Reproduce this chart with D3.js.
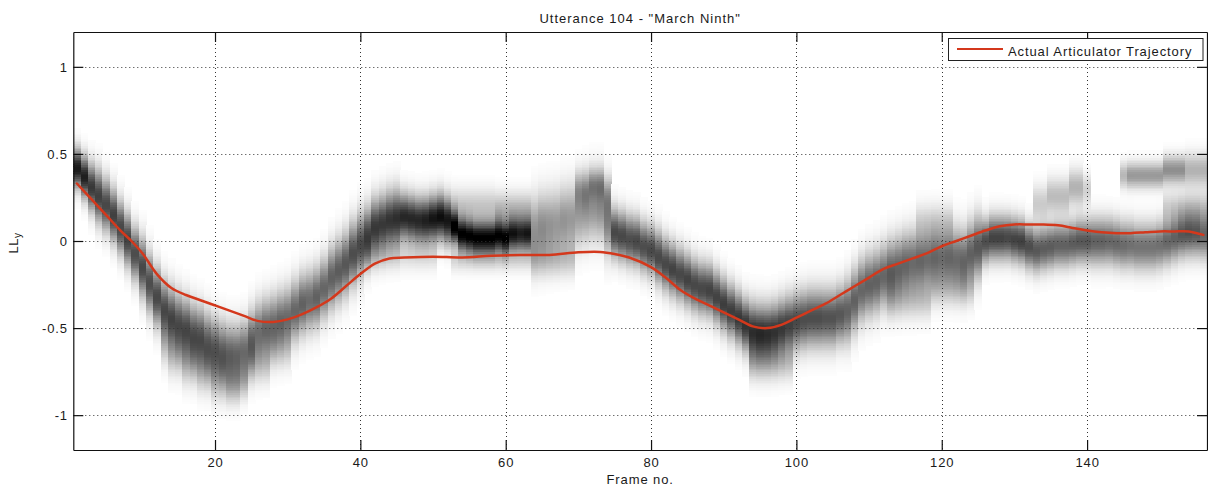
<!DOCTYPE html>
<html>
<head>
<meta charset="utf-8">
<script src="https://cdn.jsdelivr.net/npm/d3@7"></script>
<style>
  html, body { margin: 0; padding: 0; background: #fff; }
  svg { display: block; }
  text { font-family: "Liberation Sans", Arial, sans-serif; fill: #1a1a1a; }
</style>
</head>
<body>
<svg id="chart" width="1208" height="486"></svg>
<script>
// ---------------- data ----------------
const titleText = 'Utterance 104 - "March Ninth"';
const xLabel = "Frame no.";
const legendLabel = "Actual Articulator Trajectory";
const xTicks = [20, 40, 60, 80, 100, 120, 140];
const yTicks = [-1, -0.5, 0, 0.5, 1];
const xDomain = [0.5, 156.5];
const yDomain = [-1.2, 1.2];

// per-frame main posterior band: centre, spread, darkness (frames 1..156)
const bandCentre = [
  0.42,0.37,0.31,0.26,0.21,0.15,0.08,0.01,-0.07,-0.15,
  -0.24,-0.32,-0.39,-0.44,-0.47,-0.50,-0.53,-0.55,-0.58,-0.61,
  -0.63,-0.65,-0.65,-0.63,-0.57,-0.52,-0.50,-0.48,-0.46,-0.44,
  -0.40,-0.36,-0.34,-0.32,-0.27,-0.21,-0.17,-0.13,-0.07,-0.02,
  0.03,0.08,0.10,0.12,0.13,0.14,0.13,0.12,0.12,0.13,
  0.14,0.12,0.08,0.04,0.03,0.02,0.02,0.02,0.03,0.02,
  0.04,0.04,0.04,0.06,0.08,0.09,0.10,0.12,0.13,0.16,
  0.18,0.20,0.20,0.12,0.05,0.03,0.01,0.00,-0.03,-0.05,
  -0.09,-0.13,-0.16,-0.19,-0.22,-0.25,-0.27,-0.28,-0.32,-0.36,
  -0.40,-0.44,-0.48,-0.52,-0.53,-0.53,-0.52,-0.50,-0.48,-0.46,
  -0.45,-0.44,-0.44,-0.44,-0.44,-0.42,-0.40,-0.34,-0.28,-0.25,
  -0.23,-0.20,-0.17,-0.15,-0.13,-0.12,-0.11,-0.10,-0.09,-0.09,
  -0.09,-0.10,-0.11,-0.07,-0.035,0.00,0.02,0.02,0.02,0.01,
  0.00,-0.03,-0.05,-0.04,-0.03,-0.02,-0.02,-0.01,0.00,0.00,
  0.00,0.00,0.00,-0.01,-0.02,-0.02,-0.03,-0.03,-0.03,-0.02,
  0.00,0.02,0.04,0.05,0.05,0.04
];
const bandSpread = [
  0.075,0.08,0.09,0.10,0.10,0.10,0.10,0.10,0.10,0.11,
  0.11,0.11,0.11,0.115,0.115,0.115,0.115,0.115,0.115,0.115,
  0.115,0.115,0.115,0.115,0.115,0.115,0.115,0.115,0.115,0.115,
  0.115,0.115,0.115,0.115,0.115,0.12,0.12,0.12,0.12,0.12,
  0.11,0.11,0.11,0.11,0.11,0.09,0.09,0.09,0.09,0.09,
  0.09,0.09,0.065,0.065,0.065,0.065,0.065,0.065,0.065,0.065,
  0.065,0.065,0.065,0.13,0.13,0.13,0.13,0.13,0.13,0.13,
  0.13,0.13,0.13,0.13,0.095,0.095,0.095,0.095,0.095,0.095,
  0.10,0.10,0.10,0.10,0.10,0.10,0.10,0.10,0.10,0.10,
  0.10,0.10,0.10,0.11,0.11,0.11,0.11,0.11,0.11,0.11,
  0.11,0.11,0.11,0.11,0.11,0.11,0.12,0.12,0.12,0.12,
  0.12,0.12,0.12,0.12,0.12,0.12,0.12,0.12,0.12,0.12,
  0.12,0.12,0.12,0.12,0.12,0.085,0.085,0.085,0.085,0.085,
  0.085,0.085,0.085,0.085,0.085,0.085,0.085,0.085,0.085,0.085,
  0.09,0.09,0.09,0.09,0.09,0.09,0.09,0.09,0.09,0.09,
  0.09,0.09,0.09,0.09,0.09,0.09
];
const bandDarkness = [
  0.9,0.88,0.78,0.75,0.72,0.75,0.72,0.74,0.7,0.72,
  0.7,0.72,0.7,0.72,0.68,0.7,0.66,0.68,0.62,0.64,
  0.6,0.62,0.6,0.58,0.6,0.56,0.6,0.58,0.6,0.58,
  0.6,0.62,0.58,0.62,0.6,0.62,0.64,0.66,0.7,0.72,
  0.75,0.78,0.78,0.8,0.82,0.85,0.85,0.85,0.88,0.92,
  0.95,0.92,1.0,1.0,1.0,1.0,1.0,1.0,0.98,1.0,
  0.9,0.85,0.88,0.42,0.45,0.42,0.4,0.42,0.4,0.38,
  0.4,0.42,0.45,0.5,0.72,0.72,0.7,0.72,0.7,0.72,
  0.72,0.72,0.74,0.72,0.74,0.72,0.72,0.74,0.74,0.76,
  0.76,0.78,0.8,0.82,0.84,0.82,0.8,0.78,0.75,0.72,
  0.7,0.7,0.7,0.68,0.68,0.66,0.62,0.62,0.6,0.62,
  0.62,0.6,0.62,0.6,0.6,0.58,0.6,0.58,0.6,0.58,
  0.6,0.58,0.6,0.62,0.66,0.7,0.74,0.74,0.72,0.74,
  0.75,0.7,0.66,0.64,0.64,0.62,0.62,0.64,0.66,0.66,
  0.62,0.62,0.6,0.6,0.58,0.56,0.55,0.55,0.55,0.56,
  0.6,0.62,0.66,0.68,0.66,0.6
];
// secondary faint blobs: [firstFrame, lastFrame, centre, spread, darkness]
const extraBlobs = [
  [13,13,-0.58,0.09,0.2],[14,15,-0.64,0.09,0.22],[16,17,-0.69,0.09,0.25],
  [18,19,-0.73,0.09,0.25],[20,21,-0.78,0.09,0.25],[22,23,-0.82,0.075,0.25],
  [24,24,-0.80,0.07,0.2],[25,27,-0.70,0.08,0.18],[28,30,-0.62,0.08,0.12],
  [41,50,-0.08,0.06,0.12],[53,58,0.20,0.07,0.22],[59,63,0.18,0.07,0.28],
  [53,63,-0.10,0.05,0.15],[64,69,-0.10,0.07,0.18],[70,71,0.30,0.07,0.25],
  [72,73,0.33,0.06,0.28],[74,74,0.27,0.07,0.22],[94,99,-0.70,0.07,0.18],
  [113,118,-0.33,0.08,0.18],[119,124,-0.27,0.07,0.14],[117,121,0.12,0.07,0.12],
  [133,134,0.22,0.07,0.2],[135,137,0.26,0.07,0.26],[138,139,0.31,0.07,0.3],
  [140,140,0.30,0.06,0.18],[145,145,0.38,0.05,0.28],[146,150,0.38,0.05,0.4],
  [151,153,0.41,0.055,0.44],[154,156,0.41,0.065,0.3],[151,156,0.20,0.06,0.16]
];
// actual articulator trajectory
const trajFrames = [1,3,5,7,8.5,10,12,14,16,18,20,22,24,26,28,30,32,34,36,38,40,42,44,46,50,54,58,62,66,70,73,75,77,80,82,84,86,88,90,92,94,96,98,100,102,104,106,108,110,112,114,116,118,120,122,124,126,128,130,132,134,136,138,140,142,144,146,148,150,152,154,156];
const trajValues = [0.33,0.24,0.15,0.06,0.0,-0.07,-0.19,-0.27,-0.31,-0.34,-0.37,-0.40,-0.43,-0.46,-0.465,-0.45,-0.42,-0.38,-0.33,-0.26,-0.19,-0.13,-0.10,-0.095,-0.09,-0.095,-0.085,-0.08,-0.08,-0.065,-0.063,-0.075,-0.095,-0.15,-0.21,-0.28,-0.33,-0.37,-0.41,-0.45,-0.49,-0.50,-0.48,-0.44,-0.40,-0.36,-0.31,-0.26,-0.21,-0.16,-0.13,-0.10,-0.07,-0.03,0.0,0.03,0.06,0.085,0.095,0.095,0.095,0.09,0.075,0.06,0.05,0.045,0.045,0.05,0.055,0.055,0.055,0.035];

// ---------------- layout ----------------
const L = 73.3, R = 1207, T = 32, B = 450;
const red = "#d4381c";
const svg = d3.select("#chart");

const x = d3.scaleLinear().domain(xDomain).range([L, R]);
const y = d3.scaleLinear().domain(yDomain).range([B, T]);
const grey = d3.scaleLinear().domain([0, 1]).range(["#ffffff", "#000000"]).clamp(true);

// ---------------- heat map ----------------
const cells = [];
const step = 0.01;
const rows = d3.range(yDomain[0] + step / 2, yDomain[1], step);
bandCentre.forEach((mu, i) => {
  const f = i + 1;
  const s = bandSpread[i], a = bandDarkness[i];
  const extras = extraBlobs.filter(b => f >= b[0] && f <= b[1]);
  rows.forEach(v => {
    let d = a * Math.exp(-0.5 * ((v - mu) / s) ** 2);
    extras.forEach(b => { d += b[4] * Math.exp(-0.5 * ((v - b[2]) / b[3]) ** 2); });
    if (d > 0.008) cells.push({ f, v, d: Math.min(1, d) });
  });
});

svg.append("defs").append("clipPath").attr("id", "plotclip")
  .append("rect").attr("x", L).attr("y", T).attr("width", R - L).attr("height", B - T);

const heat = svg.append("g").attr("clip-path", "url(#plotclip)").attr("shape-rendering", "crispEdges");
heat.selectAll("rect").data(cells).join("rect")
  .attr("x", d => x(d.f - 0.5))
  .attr("width", d => x(d.f + 0.5) - x(d.f - 0.5) + 0.6)
  .attr("y", d => y(d.v + step / 2))
  .attr("height", d => y(d.v - step / 2) - y(d.v + step / 2) + 0.6)
  .attr("fill", d => grey(d.d));

// ---------------- grid ----------------
const grid = svg.append("g").attr("stroke", "#333").attr("stroke-width", 1).attr("stroke-dasharray", "1,3");
grid.selectAll(".gx").data(xTicks).join("line")
  .attr("x1", d => Math.round(x(d)) + 0.5).attr("x2", d => Math.round(x(d)) + 0.5)
  .attr("y1", T).attr("y2", B);
grid.selectAll(".gy").data(yTicks).join("line")
  .attr("y1", d => Math.round(y(d)) + 0.5).attr("y2", d => Math.round(y(d)) + 0.5)
  .attr("x1", L).attr("x2", R);

// ---------------- trajectory ----------------
const traj = trajFrames.map((f, i) => [f, trajValues[i]]);
svg.append("path").datum(traj)
  .attr("clip-path", "url(#plotclip)")
  .attr("fill", "none").attr("stroke", red).attr("stroke-width", 2.5)
  .attr("stroke-linejoin", "round").attr("stroke-linecap", "round")
  .attr("d", d3.line().x(d => x(d[0])).y(d => y(d[1])).curve(d3.curveCatmullRom.alpha(0.5)));

// ---------------- axes ----------------
const fontSize = "13px";
const tk = 10;
const axB = svg.append("g").attr("transform", `translate(0,${B})`)
  .call(d3.axisBottom(x).tickValues(xTicks).tickSizeInner(-tk).tickSizeOuter(0).tickPadding(7.5));
const axT = svg.append("g").attr("transform", `translate(0,${T})`)
  .call(d3.axisTop(x).tickValues(xTicks).tickSizeInner(-tk).tickSizeOuter(0).tickFormat(""));
const axL = svg.append("g").attr("transform", `translate(${L},0)`)
  .call(d3.axisLeft(y).tickValues(yTicks).tickSizeInner(-tk).tickSizeOuter(0).tickPadding(5.3).tickFormat(d3.format("")));
const axR = svg.append("g").attr("transform", `translate(${R},0)`)
  .call(d3.axisRight(y).tickValues(yTicks).tickSizeInner(-tk).tickSizeOuter(0).tickFormat(""));
[axB, axT, axL, axR].forEach(g => {
  g.selectAll("path.domain").attr("stroke", "#111").attr("stroke-width", 1.2);
  g.selectAll(".tick line").attr("stroke", "#111").attr("stroke-width", 1.2);
  g.selectAll("text").attr("font-size", fontSize).attr("fill", "#1a1a1a")
    .attr("font-family", '"Liberation Sans", Arial, sans-serif').attr("letter-spacing", "0.9px");
});
axL.selectAll("text").text(d => d3.format("")(d).replace("−", "-"));

// ---------------- title & labels ----------------
svg.append("text").attr("x", (L + R) / 2).attr("y", 23)
  .attr("text-anchor", "middle").attr("font-size", fontSize).attr("letter-spacing", "1px")
  .text(titleText);
svg.append("text").attr("x", (L + R) / 2).attr("y", 484)
  .attr("text-anchor", "middle").attr("font-size", fontSize).attr("letter-spacing", "0.9px")
  .text(xLabel);
const yl = svg.append("text").attr("transform", "translate(18,243) rotate(-90)")
  .attr("text-anchor", "middle").attr("font-size", fontSize).attr("letter-spacing", "0.5px");
yl.append("tspan").text("LL");
yl.append("tspan").attr("font-size", "10px").attr("dy", "3").text("y");

// ---------------- legend ----------------
const lg = svg.append("g");
lg.append("rect").attr("x", 948.5).attr("y", 38.5).attr("width", 254.5).attr("height", 22)
  .attr("fill", "#fff").attr("stroke", "#222").attr("stroke-width", 1);
lg.append("line").attr("x1", 957).attr("x2", 1003).attr("y1", 49).attr("y2", 49)
  .attr("stroke", red).attr("stroke-width", 2);
lg.append("text").attr("x", 1008).attr("y", 55.5).attr("font-size", fontSize)
  .attr("letter-spacing", "0.9px").text(legendLabel);
</script>
</body>
</html>
